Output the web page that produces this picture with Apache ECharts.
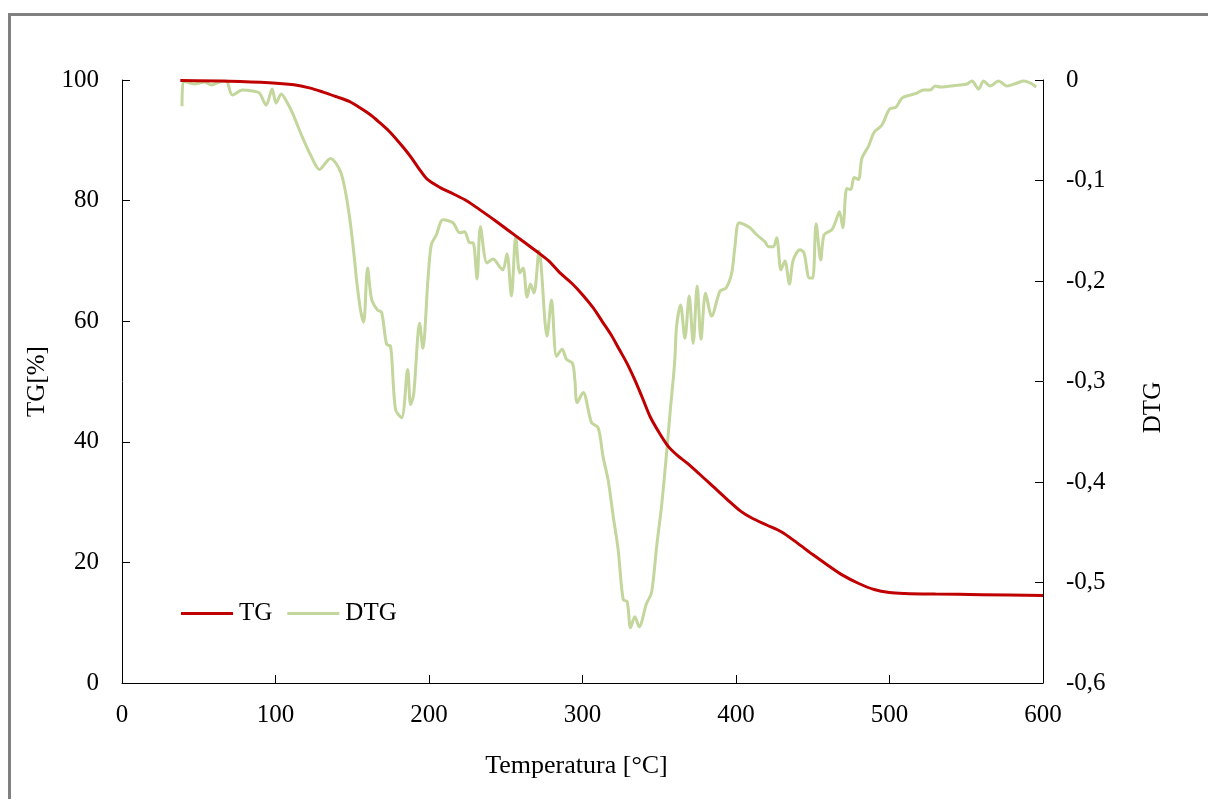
<!DOCTYPE html>
<html>
<head>
<meta charset="utf-8">
<title>TG / DTG</title>
<script src="https://cdn.jsdelivr.net/npm/echarts@6/dist/echarts.min.js"></script>
<style>
  html, body { margin: 0; padding: 0; background: #ffffff; }
  #chart { width: 1208px; height: 799px; }
</style>
</head>
<body>
<div id="chart"></div>
<script>
// Thermogravimetric curve: temperature [°C] and remaining mass [%]
const tgTemp = [38, 70, 96, 112, 122, 131, 140, 148, 155, 162, 168, 174, 179, 184, 188, 194, 199, 207, 216, 225, 233, 243, 252, 261, 270, 278, 285, 293, 300, 307, 313, 319, 324, 329, 334, 339, 344, 350, 356, 362, 368, 376, 385, 394, 403, 410, 420, 430, 440, 450, 460, 470, 480, 490, 500, 510, 530, 560, 600];
const tgValues = [99.9, 99.8, 99.55, 99.2, 98.7, 98.0, 97.2, 96.45, 95.4, 94.2, 92.9, 91.5, 90.1, 88.6, 87.3, 85.1, 83.5, 82.2, 81.1, 79.9, 78.5, 76.7, 75.0, 73.3, 71.6, 70.0, 68.1, 66.3, 64.4, 62.2, 59.9, 57.6, 55.3, 53.0, 50.3, 47.3, 44.2, 41.5, 39.2, 37.7, 36.5, 34.7, 32.6, 30.5, 28.5, 27.4, 26.2, 25.0, 23.2, 21.3, 19.5, 17.8, 16.5, 15.5, 15.0, 14.85, 14.75, 14.65, 14.5];

// Derivative curve: temperature [°C] and DTG
const dtgTemp = [39.1, 40.0, 47.2, 53.7, 58.2, 63.4, 67.8, 71.9, 78.5, 85.0, 89.5, 93.9, 97.8, 100.4, 103.7, 107.8, 111.1, 116.7, 123.3, 128.7, 135.7, 142.8, 148.2, 151.5, 152.8, 155.4, 157.4, 160.0, 162.6, 166.5, 169.1, 172.4, 175.0, 178.2, 182.2, 186.1, 188.0, 190.0, 193.9, 196.0, 199.3, 201.5, 204.8, 209.1, 215.6, 220.0, 223.2, 226.5, 228.7, 231.3, 233.5, 237.8, 241.7, 246.1, 248.2, 250.8, 253.7, 256.5, 259.1, 261.3, 263.9, 266.1, 268.4, 271.7, 276.9, 279.8, 283.1, 286.7, 289.6, 293.5, 295.0, 296.5, 300.4, 305.9, 310.2, 313.4, 316.7, 320.0, 323.2, 326.5, 329.1, 331.3, 334.1, 336.9, 341.7, 345.0, 348.3, 351.5, 354.8, 357.4, 359.1, 360.2, 361.3, 363.9, 366.7, 369.5, 372.1, 374.7, 377.2, 380.2, 384.1, 389.6, 393.5, 397.2, 399.3, 402.1, 409.1, 413.5, 418.9, 421.1, 424.3, 426.5, 429.3, 431.9, 434.8, 437.3, 441.7, 444.3, 447.8, 450.0, 452.2, 455.2, 457.4, 462.4, 464.6, 467.4, 469.6, 472.2, 474.8, 476.9, 479.8, 482.0, 486.3, 490.0, 495.0, 500.0, 504.3, 508.1, 513.5, 517.8, 522.1, 526.5, 529.8, 533.0, 539.6, 546.1, 550.4, 553.7, 558.0, 561.3, 565.6, 571.0, 576.5, 583.1, 587.4, 591.7, 595.6];
const dtgValues = [-0.026, -0.001, -0.004, -0.002, -0.005, -0.002, -0.001, -0.015, -0.010, -0.011, -0.013, -0.025, -0.009, -0.023, -0.014, -0.023, -0.033, -0.054, -0.076, -0.089, -0.078, -0.093, -0.136, -0.179, -0.199, -0.229, -0.241, -0.187, -0.218, -0.229, -0.231, -0.263, -0.265, -0.328, -0.336, -0.288, -0.323, -0.313, -0.242, -0.267, -0.199, -0.164, -0.154, -0.139, -0.142, -0.152, -0.151, -0.162, -0.162, -0.198, -0.146, -0.182, -0.178, -0.186, -0.189, -0.173, -0.215, -0.156, -0.192, -0.187, -0.216, -0.203, -0.212, -0.170, -0.255, -0.219, -0.275, -0.268, -0.278, -0.282, -0.298, -0.321, -0.311, -0.341, -0.346, -0.375, -0.398, -0.434, -0.467, -0.517, -0.519, -0.545, -0.534, -0.544, -0.521, -0.510, -0.464, -0.424, -0.371, -0.325, -0.298, -0.277, -0.245, -0.224, -0.257, -0.215, -0.262, -0.205, -0.258, -0.212, -0.235, -0.210, -0.207, -0.192, -0.166, -0.142, -0.147, -0.154, -0.161, -0.166, -0.166, -0.157, -0.189, -0.180, -0.203, -0.179, -0.169, -0.172, -0.197, -0.197, -0.143, -0.179, -0.154, -0.149, -0.142, -0.131, -0.147, -0.108, -0.109, -0.097, -0.099, -0.078, -0.066, -0.052, -0.045, -0.029, -0.027, -0.018, -0.015, -0.013, -0.010, -0.010, -0.006, -0.007, -0.006, -0.005, -0.004, -0.001, -0.009, -0.001, -0.006, -0.001, -0.006, -0.003, -0.001, -0.003, -0.007];

const xTicks = [0, 100, 200, 300, 400, 500, 600];

const FONT = 'Liberation Serif';
const tgPairs = tgTemp.map((t, i) => [t, tgValues[i]]);
const dtgPairs = dtgTemp.map((t, i) => [t, dtgValues[i]]);

const axisLineStyle = { color: '#000000', width: 1 };
const labelStyle = { color: '#000000', fontFamily: FONT, fontSize: 25 };

const chart = echarts.init(document.getElementById('chart'), null, { renderer: 'canvas' });
chart.setOption({
  backgroundColor: '#ffffff',
  animation: false,
  graphic: [{
    type: 'rect',
    z: -10,
    silent: true,
    shape: { x: 9.5, y: 14.5, width: 1300, height: 900 },
    style: { fill: 'none', stroke: '#808080', lineWidth: 3 }
  }],
  grid: { left: 122, right: 165, top: 80, bottom: 116, containLabel: false },
  legend: {
    left: 176,
    top: 596,
    itemWidth: 52,
    itemHeight: 3,
    itemGap: 15,
    icon: 'rect',
    textStyle: { color: '#000000', fontFamily: FONT, fontSize: 25, padding: [0, 0, 0, 1] },
    data: ['TG', 'DTG']
  },
  xAxis: {
    type: 'value',
    min: xTicks[0],
    max: xTicks[xTicks.length - 1],
    interval: 100,
    name: 'Temperatura [°C]',
    nameLocation: 'middle',
    nameGap: 70,
    nameTextStyle: { color: '#000000', fontFamily: FONT, fontSize: 26, padding: [0, 12, 0, 0] },
    axisLine: { onZero: false, lineStyle: axisLineStyle },
    axisTick: { inside: true, length: 8, lineStyle: axisLineStyle },
    axisLabel: Object.assign({ margin: 20 }, labelStyle),
    splitLine: { show: false }
  },
  yAxis: [{
    type: 'value',
    position: 'left',
    min: 0,
    max: 100,
    interval: 20,
    name: 'TG[%]',
    nameLocation: 'middle',
    nameRotate: 90,
    nameGap: 72,
    nameTextStyle: { color: '#000000', fontFamily: FONT, fontSize: 25 },
    axisLine: { show: true, lineStyle: axisLineStyle },
    axisTick: { show: true, inside: true, length: 8, lineStyle: axisLineStyle },
    axisLabel: Object.assign({ margin: 23 }, labelStyle),
    splitLine: { show: false }
  }, {
    type: 'value',
    position: 'right',
    min: -0.6,
    max: 0,
    interval: 0.1,
    name: 'DTG',
    nameLocation: 'middle',
    nameRotate: 90,
    nameGap: 98,
    nameTextStyle: { color: '#000000', fontFamily: FONT, fontSize: 25, padding: [0, 52, 0, 0] },
    axisLine: { show: true, lineStyle: axisLineStyle },
    axisTick: { show: true, inside: true, length: 8, lineStyle: axisLineStyle },
    axisLabel: Object.assign({
      margin: 23,
      formatter: function (v) {
        if (Math.abs(v) < 1e-9) return '0';
        return v.toFixed(1).replace('.', ',');
      }
    }, labelStyle),
    splitLine: { show: false }
  }],
  series: [{
    name: 'DTG',
    type: 'line',
    yAxisIndex: 1,
    data: dtgPairs,
    showSymbol: false,
    symbol: 'none',
    smooth: 0.3,
    z: 2,
    lineStyle: { color: '#C3D69B', width: 3 },
    itemStyle: { color: '#C3D69B' }
  }, {
    name: 'TG',
    type: 'line',
    yAxisIndex: 0,
    data: tgPairs,
    showSymbol: false,
    symbol: 'none',
    smooth: 0.3,
    z: 3,
    lineStyle: { color: '#C00000', width: 3 },
    itemStyle: { color: '#C00000' }
  }]
});
</script>
</body>
</html>
